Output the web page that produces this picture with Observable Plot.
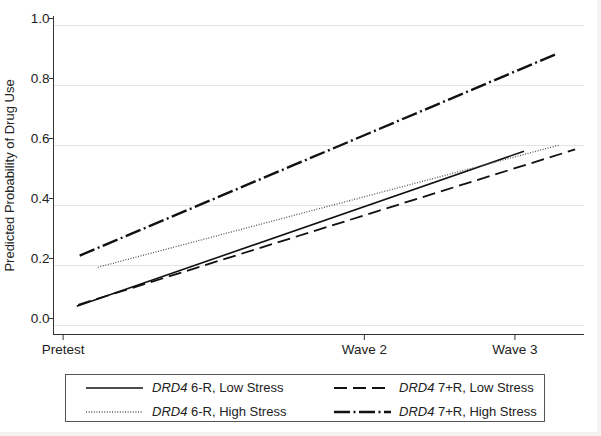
<!DOCTYPE html>
<html>
<head>
<meta charset="utf-8">
<script src="https://cdn.jsdelivr.net/npm/d3@7"></script>
<script src="https://cdn.jsdelivr.net/npm/@observablehq/plot@0.6"></script>
<style>
  html, body { margin: 0; padding: 0; background: #f3f3f3; }
  #wrap { position: relative; width: 597px; height: 432px; background: #fff; overflow: hidden;
          font-family: "Liberation Sans", Arial, Helvetica, sans-serif; color: #222; }
  #chart svg { display: block; }
  #legend { position: absolute; left: 65px; top: 374px; width: 480px; height: 48px;
            border: 1px solid #555; box-sizing: border-box; background: #fff; }
  .item { position: absolute; font-size: 13px; line-height: 16px; white-space: nowrap; }
  .sw { position: absolute; }
</style>
</head>
<body>
<div id="wrap">
  <div id="chart"></div>
  <div id="legend"></div>
</div>
<script>
// ---- data ----
const series = ["DRD4 6-R, Low Stress", "DRD4 6-R, High Stress", "DRD4 7+R, Low Stress", "DRD4 7+R, High Stress"];
const genotypes = ["6-R", "6-R", "7+R", "7+R"];
const stressLabels = ["Low Stress", "High Stress", "Low Stress", "High Stress"];
// time (Pretest = 0, Wave 2 = 2, Wave 3 = 3) at start and end of each fitted line
const timeStart = [0.09, 0.23, 0.10, 0.11];
const timeEnd   = [3.06, 3.30, 3.40, 3.28];
const probStart = [0.064, 0.194, 0.069, 0.233];
const probEnd   = [0.581, 0.602, 0.587, 0.906];
const waveTimes  = [0, 2, 3];
const waveLabels = ["Pretest", "Wave 2", "Wave 3"];
const yTicks = [0, 0.2, 0.4, 0.6, 0.8, 1.0];
const yLabel = "Predicted Probability of Drug Use";

// ---- styles ----
const styles = [
  {dash: null, width: 1.6, color: "#111"},
  {dash: "1,1.6", width: 1.3, color: "#555"},
  {dash: "13,6", width: 1.8, color: "#111"},
  {dash: "16,3.5,2,3.5", width: 2.4, color: "#111"}
];

const data = series.flatMap((s, i) => [
  {series: s, t: timeStart[i], p: probStart[i]},
  {series: s, t: timeEnd[i], p: probEnd[i]}
]);

const xDom = [-0.064, 3.462];
const yDom = [-0.03, 1.03];

const lineMarks = series.map((s, i) => Plot.line(data.filter(d => d.series === s), {
  x: "t", y: "p", stroke: styles[i].color, strokeWidth: styles[i].width,
  strokeDasharray: styles[i].dash || undefined, strokeLinecap: "butt"
}));

const chart = Plot.plot({
  width: 597, height: 366,
  marginLeft: 53, marginRight: 13, marginTop: 16, marginBottom: 32,
  style: {fontFamily: "'Liberation Sans', Arial, sans-serif", color: "#222", background: "transparent"},
  x: {domain: xDom},
  y: {domain: yDom},
  marks: [
    Plot.gridY(yTicks, {stroke: "#e4e4e4", strokeOpacity: 1, strokeWidth: 1}),
    Plot.ruleX([xDom[0]], {stroke: "#333", strokeWidth: 1}),
    Plot.ruleY([yDom[0]], {stroke: "#333", strokeWidth: 1}),
    Plot.axisX(waveTimes, {tickFormat: (d) => waveLabels[waveTimes.indexOf(d)], tickSize: 6, tickPadding: 4,
      fontSize: 13.5, label: null, stroke: "#333"}),
    Plot.axisY(yTicks, {tickFormat: d3.format(".1f"), tickSize: 4, tickPadding: 0, dy: -7,
      fontSize: 13.5, label: null, stroke: "#333"}),
    Plot.text([yLabel], {frameAnchor: "left", rotate: -90, dx: -44, textAnchor: "middle",
      fontSize: 13, fill: "#222"}),
    ...lineMarks
  ]
});
document.getElementById("chart").appendChild(chart);

// ---- legend ----
const legend = document.getElementById("legend");
const pos = [
  {sx: 20, tx: 86, y: 13},
  {sx: 20, tx: 86, y: 37},
  {sx: 268, tx: 333, y: 13},
  {sx: 268, tx: 333, y: 37}
];
series.forEach((s, i) => {
  const p = pos[i];
  const st = styles[i];
  const svg = d3.create("svg").attr("class", "sw").attr("width", 57).attr("height", 6)
    .style("left", p.sx + "px").style("top", (p.y - 3) + "px");
  svg.append("line").attr("x1", 0).attr("x2", 57).attr("y1", 3).attr("y2", 3)
    .attr("stroke", st.color).attr("stroke-width", st.width)
    .attr("stroke-dasharray", st.dash);
  legend.appendChild(svg.node());
  const span = document.createElement("span");
  span.className = "item";
  span.style.left = p.tx + "px";
  span.style.top = (p.y - 8) + "px";
  span.innerHTML = "<i>DRD4</i> " + genotypes[i] + ", " + stressLabels[i];
  legend.appendChild(span);
});
</script>
</body>
</html>
